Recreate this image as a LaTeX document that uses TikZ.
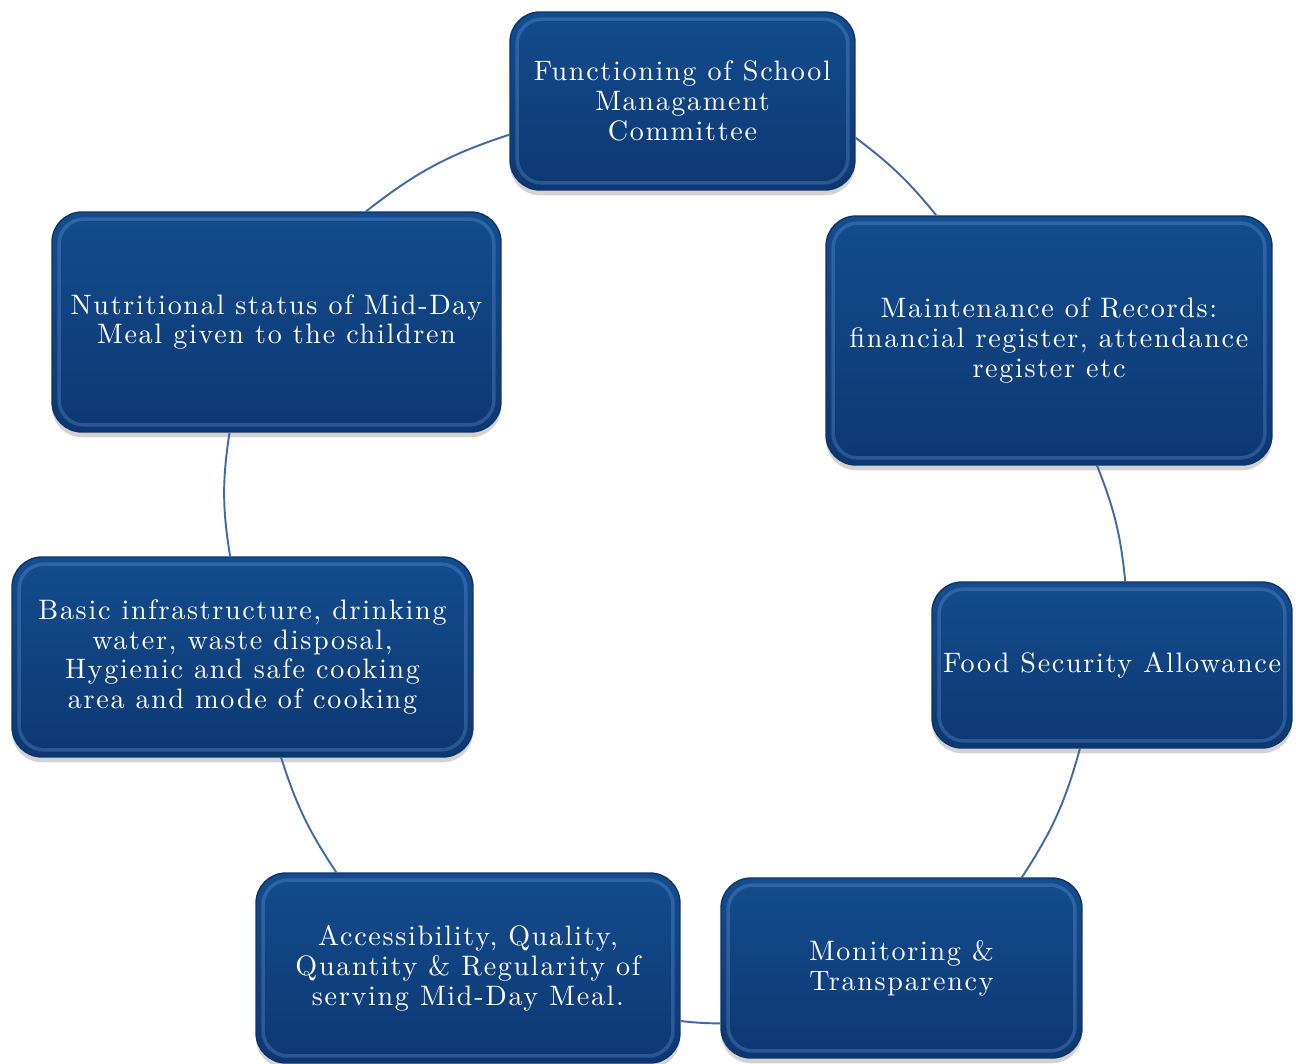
\documentclass[tikz,border=0pt]{standalone}
\usepackage{fontspec}
\usepackage{tikz}
\usetikzlibrary{shadows}

\newfontfamily\stagefont{lmroman10-regular.otf}[LetterSpace=6]

\definecolor{boxtop}{RGB}{20,76,142}
\definecolor{boxbot}{RGB}{13,56,114}
\definecolor{boxedge}{RGB}{12,52,104}
\definecolor{boxshine}{RGB}{110,160,225}
\definecolor{arcblue}{RGB}{66,106,160}

\tikzset{
  stagebox/.style={draw=boxedge, line width=0.8pt, rounded corners=0.6cm,
    top color=boxtop, bottom color=boxbot, text=white, align=center,
    font=\stagefont\fontsize{16}{17}\selectfont,
    drop shadow={shadow xshift=0pt, shadow yshift=-3pt, opacity=0.35},
    path picture={\draw[boxshine, line width=2pt, opacity=0.3, rounded corners=0.5cm]
      ([shift={(4pt,-4pt)}]path picture bounding box.north west) rectangle
      ([shift={(-4pt,4pt)}]path picture bounding box.south east);}},
  cyclearc/.style={draw=arcblue, line width=1.1pt}
}

\begin{document}
\begin{tikzpicture}[x=0.02cm, y=-0.02cm]

  % Page frame
  \clip (0,0) rectangle (1296,1063);

  % Stages of the cycle
  \node[stagebox, minimum width=6.9cm, minimum height=3.56cm] (func) at (682.5,101)
    {Functioning of School\\Managament\\Committee};
  \node[stagebox, minimum width=8.92cm, minimum height=4.98cm] (records) at (1049,340.5)
    {Maintenance of Records:\\financial register, attendance\\register etc};
  \node[stagebox, minimum width=7.2cm, minimum height=3.32cm] (food) at (1112,665)
    {Food Security Allowance};
  \node[stagebox, minimum width=7.22cm, minimum height=3.6cm] (monitor) at (901.5,968)
    {Monitoring \&\\Transparency};
  \node[stagebox, minimum width=8.48cm, minimum height=3.8cm] (access) at (468,968)
    {Accessibility, Quality,\\Quantity \& Regularity of\\serving Mid-Day Meal.};
  \node[stagebox, minimum width=9.22cm, minimum height=4.0cm] (basic) at (242.5,657)
    {Basic infrastructure, drinking\\water, waste disposal,\\Hygienic and safe cooking\\area and mode of cooking};
  \node[stagebox, minimum width=8.98cm, minimum height=4.4cm] (nutri) at (276.5,322)
    {Nutritional status of Mid-Day\\Meal given to the children};

  % Arcs between the stages
  \draw[cyclearc] (func.-12)     to[bend left=7]  (records.132);
  \draw[cyclearc] (records.-69)  to[bend left=8]  (food.81);
  \draw[cyclearc] (food.-111)    to[bend left=9]  (monitor.37);
  \draw[cyclearc] (monitor.-163) to[bend left=3]  (access.-14);
  \draw[cyclearc] (access.144)   to[bend left=8]  (basic.-69);
  \draw[cyclearc] (basic.97)     to[bend left=9]  (nutri.-113);
  \draw[cyclearc] (nutri.51)     to[bend left=10] (func.191);

\end{tikzpicture}
\end{document}
